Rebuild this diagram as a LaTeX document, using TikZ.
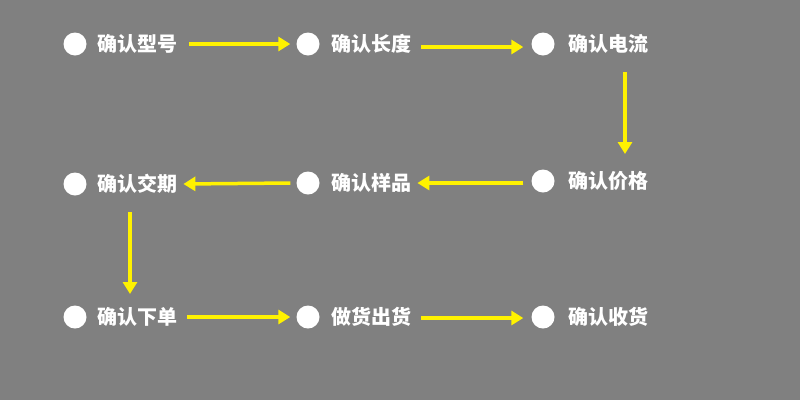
\documentclass[tikz,border=0pt]{standalone}
\usepackage{fontspec}
\newfontfamily\cjk{Noto Sans CJK SC}
\usetikzlibrary{arrows.meta}
\begin{document}
\begin{tikzpicture}[x=1pt,y=-1pt,
  dot/.style={circle,fill=white,minimum size=23pt,inner sep=0pt},
  lbl/.style={anchor=west,text=white,font=\cjk\bfseries\fontsize{20}{20}\selectfont,inner sep=0pt},
  flow/.style={draw={rgb,255:red,255;green,242;blue,0},line width=3.5pt,-{Triangle[length=12pt,width=14pt]}}]
\fill[gray] (0,0) rectangle (800,400);
\useasboundingbox (0,0) rectangle (800,400);
\node[dot] (c1) at (75,44) {}; \node[lbl] (t1) at (97,44) {确认型号};
\node[dot] (c2) at (308,44) {}; \node[lbl] (t2) at (331,44) {确认长度};
\node[dot] (c3) at (543,44) {}; \node[lbl] (t3) at (568,44) {确认电流};
\node[dot] (c4) at (543,181) {}; \node[lbl] (t4) at (568,181) {确认价格};
\node[dot] (c5) at (308,183) {}; \node[lbl] (t5) at (331,183) {确认样品};
\node[dot] (c6) at (75,184) {}; \node[lbl] (t6) at (97,184) {确认交期};
\node[dot] (c7) at (75,317) {}; \node[lbl] (t7) at (97,317) {确认下单};
\node[dot] (c8) at (308,317) {}; \node[lbl] (t8) at (331,317) {做货出货};
\node[dot] (c9) at (543,317) {}; \node[lbl] (t9) at (568,317) {确认收货};
\draw[flow] ([xshift=12pt]t1.east) -- ([xshift=-6pt]c2.west);
\draw[flow] ([xshift=10pt,yshift=-3pt]t2.east) -- ([xshift=-8pt,yshift=-3pt]c3.west);
\draw[flow] (625,72) -- (625,154);
\draw[flow] ([xshift=-8pt,yshift=-2pt]c4.west) -- ([xshift=6pt]t5.east);
\draw[flow] ([xshift=-6pt]c5.west) -- ([xshift=6pt]t6.east);
\draw[flow] (130,212) -- (130,294);
\draw[flow] ([xshift=10pt]t7.east) -- ([xshift=-6pt]c8.west);
\draw[flow] ([xshift=10pt,yshift=-1pt]t8.east) -- ([xshift=-8pt,yshift=-1pt]c9.west);
\end{tikzpicture}
\end{document}
